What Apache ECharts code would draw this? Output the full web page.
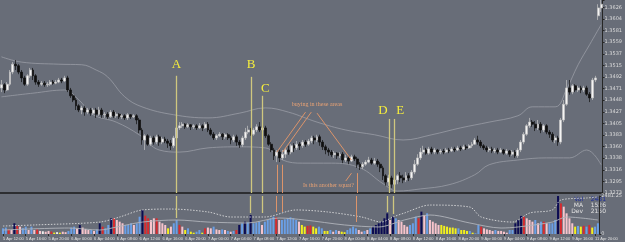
<!DOCTYPE html>
<html><head><meta charset="utf-8">
<script src="https://cdn.jsdelivr.net/npm/echarts@6/dist/echarts.min.js"></script>
<style>html,body{margin:0;padding:0;background:#686d78;overflow:hidden}#c{width:625px;height:242px}</style>
</head><body><div id="c"></div>
<script>
// ---------- DATA ----------
const timeLabels = ['5 Apr 12:00','5 Apr 16:00','5 Apr 20:00','6 Apr 00:00','6 Apr 04:00','6 Apr 08:00','6 Apr 12:00','6 Apr 16:00','6 Apr 20:00','7 Apr 00:00','7 Apr 04:00','7 Apr 08:00','7 Apr 12:00','7 Apr 16:00','7 Apr 20:00','8 Apr 00:00','8 Apr 04:00','8 Apr 08:00','8 Apr 12:00','8 Apr 16:00','8 Apr 20:00','9 Apr 00:00','9 Apr 04:00','9 Apr 08:00','9 Apr 12:00','9 Apr 16:00','11 Apr 20:00'];
const priceTickLabels = ['1.3273','1.3295','1.3316','1.3338','1.3360','1.3383','1.3405','1.3427','1.3448','1.3471','1.3492','1.3515','1.3537','1.3559','1.3581','1.3604','1.3626'];
const volTickLabels = ['0','2481.25'];

// [open, close, low, high]
const ohlc = [
[1.3472,1.3478,1.3464,1.3487],[1.3478,1.3468,1.3462,1.3481],[1.3468,1.3479,1.3466,1.3483],[1.3479,1.3502,1.3476,1.3506],[1.3502,1.3517,1.3498,1.3521],
[1.3517,1.3514,1.3506,1.3525],[1.3514,1.3502,1.3498,1.3517],[1.3502,1.3491,1.3483,1.3506],[1.3491,1.3479,1.3476,1.3495],[1.3479,1.3495,1.3476,1.3498],
[1.3495,1.3506,1.3491,1.3510],[1.3506,1.3495,1.3487,1.3510],[1.3495,1.3483,1.3478,1.3498],[1.3483,1.3479,1.3474,1.3487],[1.3479,1.3481,1.3476,1.3485],
[1.3481,1.3478,1.3474,1.3485],[1.3478,1.3479,1.3474,1.3483],[1.3479,1.3483,1.3476,1.3487],[1.3483,1.3481,1.3478,1.3487],[1.3481,1.3483,1.3479,1.3487],
[1.3483,1.3487,1.3481,1.3491],[1.3487,1.3485,1.3481,1.3491],[1.3485,1.3491,1.3483,1.3495],[1.3491,1.3468,1.3464,1.3495],[1.3468,1.3457,1.3453,1.3472],
[1.3457,1.3449,1.3445,1.3460],[1.3449,1.3438,1.3430,1.3453],[1.3438,1.3430,1.3426,1.3441],[1.3430,1.3434,1.3422,1.3438],[1.3434,1.3426,1.3419,1.3438],
[1.3426,1.3430,1.3422,1.3434],[1.3430,1.3424,1.3419,1.3434],[1.3424,1.3430,1.3421,1.3434],[1.3430,1.3422,1.3415,1.3434],[1.3422,1.3430,1.3419,1.3436],
[1.3430,1.3421,1.3415,1.3434],[1.3421,1.3422,1.3415,1.3426],[1.3422,1.3417,1.3413,1.3426],[1.3417,1.3426,1.3415,1.3430],[1.3426,1.3419,1.3415,1.3430],
[1.3419,1.3422,1.3415,1.3426],[1.3422,1.3417,1.3413,1.3424],[1.3417,1.3419,1.3413,1.3422],[1.3419,1.3415,1.3411,1.3422],[1.3415,1.3421,1.3411,1.3424],
[1.3421,1.3417,1.3413,1.3422],[1.3417,1.3419,1.3415,1.3422],[1.3419,1.3411,1.3403,1.3422],[1.3411,1.3392,1.3386,1.3415],[1.3392,1.3373,1.3364,1.3396],
[1.3373,1.3381,1.3354,1.3384],[1.3381,1.3365,1.3362,1.3384],[1.3365,1.3377,1.3362,1.3381],[1.3377,1.3369,1.3364,1.3381],[1.3369,1.3379,1.3365,1.3383],
[1.3379,1.3369,1.3362,1.3383],[1.3369,1.3375,1.3365,1.3379],[1.3375,1.3371,1.3367,1.3379],[1.3371,1.3367,1.3358,1.3375],[1.3367,1.3362,1.3354,1.3373],
[1.3362,1.3377,1.3358,1.3381],[1.3377,1.3396,1.3373,1.3403],[1.3396,1.3400,1.3392,1.3407],[1.3400,1.3403,1.3396,1.3407],[1.3403,1.3398,1.3394,1.3405],
[1.3398,1.3402,1.3396,1.3405],[1.3402,1.3398,1.3392,1.3403],[1.3398,1.3400,1.3394,1.3403],[1.3400,1.3396,1.3392,1.3403],[1.3396,1.3400,1.3394,1.3405],
[1.3400,1.3396,1.3390,1.3403],[1.3396,1.3403,1.3394,1.3407],[1.3403,1.3392,1.3388,1.3407],[1.3392,1.3384,1.3381,1.3396],[1.3384,1.3377,1.3373,1.3388],
[1.3377,1.3381,1.3373,1.3384],[1.3381,1.3384,1.3379,1.3388],[1.3384,1.3379,1.3373,1.3386],[1.3379,1.3383,1.3375,1.3386],[1.3383,1.3377,1.3373,1.3386],
[1.3377,1.3373,1.3365,1.3381],[1.3373,1.3379,1.3369,1.3383],[1.3379,1.3369,1.3362,1.3383],[1.3369,1.3364,1.3358,1.3373],[1.3364,1.3377,1.3360,1.3381],
[1.3377,1.3388,1.3373,1.3396],[1.3388,1.3392,1.3384,1.3400],[1.3392,1.3384,1.3381,1.3396],[1.3384,1.3392,1.3381,1.3396],[1.3392,1.3398,1.3388,1.3403],
[1.3398,1.3392,1.3388,1.3407],[1.3392,1.3396,1.3388,1.3402],[1.3396,1.3381,1.3377,1.3400],[1.3381,1.3365,1.3362,1.3384],[1.3365,1.3354,1.3350,1.3369],
[1.3354,1.3343,1.3335,1.3358],[1.3343,1.3350,1.3331,1.3354],[1.3350,1.3339,1.3331,1.3354],[1.3339,1.3346,1.3335,1.3354],[1.3346,1.3354,1.3339,1.3358],
[1.3354,1.3350,1.3345,1.3362],[1.3350,1.3362,1.3346,1.3365],[1.3362,1.3358,1.3350,1.3367],[1.3358,1.3365,1.3354,1.3371],[1.3365,1.3362,1.3354,1.3369],
[1.3362,1.3369,1.3358,1.3373],[1.3369,1.3365,1.3360,1.3373],[1.3365,1.3371,1.3362,1.3375],[1.3371,1.3377,1.3367,1.3381],[1.3377,1.3373,1.3365,1.3381],
[1.3373,1.3379,1.3369,1.3383],[1.3379,1.3369,1.3362,1.3383],[1.3369,1.3360,1.3354,1.3373],[1.3360,1.3354,1.3346,1.3364],[1.3354,1.3350,1.3343,1.3358],
[1.3350,1.3345,1.3341,1.3354],[1.3345,1.3348,1.3339,1.3352],[1.3348,1.3343,1.3337,1.3350],[1.3343,1.3346,1.3339,1.3350],[1.3346,1.3335,1.3329,1.3350],
[1.3335,1.3339,1.3331,1.3345],[1.3339,1.3333,1.3327,1.3343],[1.3333,1.3341,1.3331,1.3345],[1.3341,1.3337,1.3333,1.3345],[1.3337,1.3327,1.3320,1.3341],
[1.3327,1.3322,1.3316,1.3331],[1.3322,1.3327,1.3318,1.3331],[1.3327,1.3331,1.3324,1.3335],[1.3331,1.3335,1.3329,1.3341],[1.3335,1.3329,1.3326,1.3339],
[1.3329,1.3333,1.3326,1.3339],[1.3333,1.3327,1.3322,1.3337],[1.3327,1.3320,1.3312,1.3331],[1.3320,1.3305,1.3297,1.3324],[1.3305,1.3293,1.3286,1.3308],
[1.3293,1.3301,1.3286,1.3307],[1.3301,1.3289,1.3282,1.3305],[1.3289,1.3297,1.3284,1.3303],[1.3297,1.3305,1.3289,1.3308],[1.3305,1.3301,1.3293,1.3312],
[1.3301,1.3297,1.3291,1.3307],[1.3297,1.3305,1.3293,1.3312],[1.3305,1.3301,1.3295,1.3310],[1.3301,1.3312,1.3297,1.3316],[1.3312,1.3327,1.3308,1.3335],
[1.3327,1.3339,1.3324,1.3346],[1.3339,1.3350,1.3335,1.3358],[1.3350,1.3354,1.3346,1.3362],[1.3354,1.3348,1.3345,1.3358],[1.3348,1.3356,1.3345,1.3360],
[1.3356,1.3350,1.3346,1.3360],[1.3350,1.3354,1.3346,1.3358],[1.3354,1.3350,1.3346,1.3356],[1.3350,1.3352,1.3346,1.3356],[1.3352,1.3350,1.3346,1.3356],
[1.3350,1.3354,1.3348,1.3358],[1.3354,1.3352,1.3348,1.3358],[1.3352,1.3356,1.3350,1.3360],[1.3356,1.3354,1.3350,1.3360],[1.3354,1.3358,1.3352,1.3362],
[1.3358,1.3356,1.3352,1.3362],[1.3356,1.3360,1.3354,1.3364],[1.3360,1.3358,1.3354,1.3364],[1.3358,1.3362,1.3356,1.3365],[1.3362,1.3365,1.3358,1.3369],
[1.3365,1.3373,1.3364,1.3377],[1.3373,1.3369,1.3364,1.3381],[1.3369,1.3362,1.3358,1.3373],[1.3362,1.3358,1.3354,1.3365],[1.3358,1.3354,1.3350,1.3362],
[1.3354,1.3356,1.3350,1.3360],[1.3356,1.3352,1.3348,1.3360],[1.3352,1.3354,1.3348,1.3358],[1.3354,1.3350,1.3346,1.3358],[1.3350,1.3354,1.3348,1.3358],
[1.3354,1.3348,1.3345,1.3356],[1.3348,1.3352,1.3345,1.3356],[1.3352,1.3346,1.3341,1.3354],[1.3346,1.3350,1.3343,1.3354],[1.3350,1.3343,1.3339,1.3354],
[1.3343,1.3354,1.3339,1.3358],[1.3354,1.3369,1.3350,1.3373],[1.3369,1.3384,1.3365,1.3388],[1.3384,1.3400,1.3381,1.3403],[1.3400,1.3407,1.3396,1.3415],
[1.3407,1.3403,1.3398,1.3411],[1.3403,1.3396,1.3390,1.3409],[1.3396,1.3403,1.3392,1.3411],[1.3403,1.3392,1.3386,1.3407],[1.3392,1.3400,1.3388,1.3403],
[1.3400,1.3388,1.3384,1.3403],[1.3388,1.3384,1.3377,1.3392],[1.3384,1.3373,1.3369,1.3388],[1.3373,1.3377,1.3367,1.3381],[1.3377,1.3369,1.3362,1.3381],
[1.3369,1.3411,1.3365,1.3415],[1.3411,1.3441,1.3407,1.3449],[1.3441,1.3472,1.3438,1.3487],[1.3472,1.3464,1.3459,1.3487],[1.3464,1.3476,1.3460,1.3479],
[1.3476,1.3468,1.3464,1.3479],[1.3468,1.3472,1.3464,1.3476],[1.3472,1.3468,1.3462,1.3476],[1.3468,1.3472,1.3464,1.3476],[1.3472,1.3460,1.3457,1.3476],
[1.3460,1.3453,1.3445,1.3464],[1.3453,1.3487,1.3449,1.3491],[1.3487,1.3491,1.3483,1.3495],[1.3609,1.3624,1.3601,1.3631],[1.3624,1.3631,1.3616,1.3639]
];

const volumes = [
370,420,300,260,700,530,480,380,480,260,
480,260,300,200,180,150,200,160,90,120,
85,150,120,200,420,480,350,590,420,330,
260,260,200,300,700,480,370,590,1025,1025,
915,805,700,590,590,700,590,700,1130,1570,
1200,1025,915,1025,1025,805,700,590,370,480,
700,915,590,480,260,370,150,85,150,260,
85,370,420,370,480,300,260,300,260,200,
150,200,260,590,700,805,760,1240,700,750,
805,590,805,915,1025,1130,1090,915,915,960,
1025,1090,1025,915,805,590,480,530,560,480,
370,480,370,200,200,260,150,260,200,150,
120,260,370,480,370,260,150,200,260,370,
480,590,700,805,1025,1350,915,1130,1025,915,
805,590,480,590,700,1130,1025,1460,1240,1350,
915,805,700,590,590,530,480,420,420,370,
370,260,260,200,200,85,45,590,480,370,
300,260,200,260,200,200,150,85,260,260,
700,915,1180,1130,1025,915,805,915,700,805,
805,700,700,700,915,2481,2000,1785,1350,1025,
700,480,530,480,530,480,590,420,480,700
];
// b=blue p=pink r=red n=navy y=yellow w=white
const volKinds = ('bbrpnrpbbp'+'bprpwppryw'+'yppbbbpnpp'+'pbpbnrbbnr'+'pppbbbpbbn'+
  'rrpprpppyp'+'bbrpybyybb'+'yrppbppbpb'+'pbrnbnbnbb'+'bpbbbbrpbb'+
  'bbbbpyyrry'+'ybbyybpbpy'+'ybbbbppbpb'+'nnnnnnpnbp'+'pppbbbrnpb'+
  'ppppyyyyyy'+'byyybybbrp'+'pppbppppbb'+'nnnrpppbpb'+'rpbbbnrppp'+'pybyrbrybb').split('');

const upperBand = [[0,1.3531],[7,1.3521],[20,1.3517],[28,1.3516],[33,1.3506],[37,1.3493],[43,1.3455],[49,1.3436],[60,1.3421],[72,1.3415],[83,1.3424],[92,1.3434],[100,1.3426],[110,1.3407],[120,1.3392],[130,1.3383],[140,1.3373],[150,1.3383],[160,1.3396],[170,1.3407],[180,1.3419],[185,1.3436],[193,1.3436],[197,1.3470],[201,1.3516],[205,1.3554],[209,1.3592]];
const lowerBand = [[0,1.3455],[11,1.3462],[22,1.3468],[27,1.3449],[32,1.3421],[40,1.3407],[48,1.3383],[55,1.3354],[62,1.3350],[72,1.3358],[83,1.3360],[92,1.3358],[98,1.3335],[105,1.3329],[115,1.3329],[125,1.3320],[133,1.3290],[138,1.3276],[146,1.3280],[156,1.3288],[165,1.3307],[170,1.3326],[180,1.3335],[190,1.3339],[198,1.3339],[204,1.3354],[209,1.3326]];
const volUpper = [[0,520],[11,590],[34,780],[41,1110],[49,1570],[59,1630],[72,1440],[80,1110],[92,1110],[103,1570],[114,1440],[126,1110],[133,780],[137,1110],[141,1370],[150,1890],[164,1760],[168,1110],[179,780],[185,1370],[193,1570],[196,2220],[205,2350],[209,2415]];
const volMA = [[0,260],[23,390],[34,260],[40,460],[49,780],[61,915],[72,780],[86,720],[97,1045],[106,915],[120,590],[132,460],[141,915],[150,1240],[164,720],[175,390],[181,460],[193,780],[198,1110],[209,915]];
const volInfo = {vol: 2481, ma: 1526, dev: 2150};

// annotations (data space): [label, barIndex, price]
const letters = [['A',61,1.3516],['B',87,1.3517],['C',92,1.3470],['D',133,1.3428],['E',139,1.3428]];
// [barIndex, topPrice, volumeEnd]
const guides = [[61,1.3495,1045],[87,1.3493,1370],[91,1.3457,1370],[135,1.3413,1437],[137,1.3413,1306]];
const orangeSegs = [[[106,1.3426],[96,1.3350]],[[108,1.3426],[98,1.3350]],[[110,1.3424],[122,1.3335]],[[120,1.3295],[122,1.3310]]];
const orangeDrops = [[96,1.3326,1437],[98,1.3326,1437],[124,1.3310,784]];
const notes = [['buying in these areas',110,1.3440],['Is this another squat?',114,1.3286]];

// ---------- CHART ----------
const PINT = 0.0022047, PMIN = 1.3272294, PMAX = 1.3639;
const cats = ohlc.map((d,i)=>'b'+i);
const kindColor = {b:'#6a9fe6', p:'#f7c4cc', r:'#d82a2e', n:'#0b0b52', y:'#f2f01e', w:'#eeeeee'};
const guideColor = '#cfc77f', orange = '#dc946a';

const chart = echarts.init(document.getElementById('c'), null, {renderer:'canvas'});
chart.setOption({
  backgroundColor:'#686d78',
  animation:false,
  grid:[{left:0,right:14,top:0,height:193},{left:0,right:14,top:196,height:38}],
  xAxis:[
    {type:'category',gridIndex:0,data:cats,axisLabel:{show:false},axisTick:{show:false},
     axisLine:{show:true,onZero:false,lineStyle:{color:'#1a1a1a',width:1.5}},splitLine:{show:false}},
    {type:'category',gridIndex:1,data:cats,
     axisLabel:{show:true,interval:(idx)=>idx%8===0,formatter:(v,idx)=>timeLabels[idx/8]||'',fontSize:4,color:'#e2e2e2',align:'left',margin:3,fontFamily:'Liberation Sans'},
     axisTick:{show:true,interval:(idx)=>idx%8===0,alignWithLabel:true,length:2,lineStyle:{color:'#2a2a2a'}},
     axisLine:{show:false},splitLine:{show:false}}
  ],
  yAxis:[
    {type:'value',gridIndex:0,position:'right',min:PMIN,max:PMAX,interval:PINT,scale:true,
     axisLabel:{fontSize:5,color:'#dcdcdc',margin:2,fontFamily:'DejaVu Sans',
       formatter:(v)=>{const k=Math.round((v-PMIN)/PINT);return priceTickLabels[k]||'';}},
     axisLine:{show:true,lineStyle:{color:'#262626'}},axisTick:{show:true,length:2,lineStyle:{color:'#262626'}},splitLine:{show:false}},
    {type:'value',gridIndex:1,position:'right',min:0,max:2481.25,interval:2481.25,
     axisLabel:{fontSize:5,color:'#dcdcdc',margin:2,fontFamily:'DejaVu Sans',
       formatter:(v)=>v===0?volTickLabels[0]:(v>=2481?volTickLabels[1]:'')},
     axisLine:{show:true,lineStyle:{color:'#262626'}},axisTick:{show:true,length:2,lineStyle:{color:'#262626'}},splitLine:{show:false}}
  ],
  graphic:[
    {type:'text',right:19,top:196,style:{text:'Vol    '+volInfo.vol,fill:'#1f2f9e',font:'6px DejaVu Sans'}},
    {type:'text',right:19,top:202,style:{text:'MA    '+volInfo.ma,fill:'#e0e0e0',font:'6px DejaVu Sans'}},
    {type:'text',right:19,top:208,style:{text:'Dev    '+volInfo.dev,fill:'#e0e0e0',font:'6px DejaVu Sans'}}
  ],
  series:[
    {type:'line',xAxisIndex:0,yAxisIndex:0,data:upperBand,showSymbol:false,symbol:'none',smooth:0.4,
     lineStyle:{color:'#a0a4ac',width:0.7},silent:true,z:1,
     markLine:{silent:true,symbol:['none','none'],label:{show:false},animation:false,
       data:guides.map(g=>[{coord:[g[0],g[1]],lineStyle:{color:guideColor,width:1.3,type:'solid'}},{coord:[g[0],PMIN]}])},
     markPoint:{silent:true,animation:false,data:letters.map(l=>({coord:[l[1],l[2]],symbol:'circle',symbolSize:1,itemStyle:{color:'rgba(0,0,0,0)'},
       label:{show:true,position:'inside',formatter:l[0],color:'#f6ee3c',fontSize:13,fontFamily:'Liberation Serif'}}))}},
    {type:'line',xAxisIndex:0,yAxisIndex:0,data:lowerBand,showSymbol:false,symbol:'none',smooth:0.4,
     lineStyle:{color:'#a0a4ac',width:0.7},silent:true,z:1,
     markLine:{silent:true,symbol:['none','none'],label:{show:false},animation:false,
       data:orangeSegs.map(s=>[{coord:s[0],lineStyle:{color:orange,width:1,type:'solid'}},{coord:s[1]}])
         .concat(orangeDrops.map(d=>[{coord:[d[0],d[1]],lineStyle:{color:orange,width:1,type:'solid'}},{coord:[d[0],PMIN]}]))},
     markPoint:{silent:true,animation:false,data:notes.map(n=>({coord:[n[1],n[2]],symbol:'circle',symbolSize:1,itemStyle:{color:'rgba(0,0,0,0)'},
       label:{show:true,position:'inside',formatter:n[0],color:'#e9a274',fontSize:6,fontFamily:'Liberation Serif'}}))}},
    {type:'candlestick',xAxisIndex:0,yAxisIndex:0,data:ohlc,barWidth:2.4,z:3,silent:true,
     itemStyle:{color:'#f4f4f4',color0:'#101010',borderColor:'#c4c4c4',borderColor0:'#101010',borderWidth:0.7}},
    {type:'bar',xAxisIndex:1,yAxisIndex:1,barWidth:2,silent:true,z:2,
     data:volumes.map((v,i)=>({value:v,itemStyle:{color:kindColor[volKinds[i]]}})),
     markLine:{silent:true,symbol:['none','none'],label:{show:false},animation:false,
       data:guides.map(g=>[{coord:[g[0],2481.25],lineStyle:{color:guideColor,width:1.3,type:'solid'}},{coord:[g[0],g[2]]}])
         .concat(orangeDrops.map(d=>[{coord:[d[0],2481.25],lineStyle:{color:orange,width:1,type:'solid'}},{coord:[d[0],d[2]]}]))}},
    {type:'line',xAxisIndex:1,yAxisIndex:1,data:volUpper,showSymbol:false,symbol:'none',smooth:0.3,silent:true,z:4,
     lineStyle:{color:'#e8e8e8',width:0.8,type:[1.5,1.5]}},
    {type:'line',xAxisIndex:1,yAxisIndex:1,data:volMA,showSymbol:false,symbol:'none',smooth:0.3,silent:true,z:4,
     lineStyle:{color:'#b0b3ba',width:0.9}}
  ]
});
</script></body></html>
